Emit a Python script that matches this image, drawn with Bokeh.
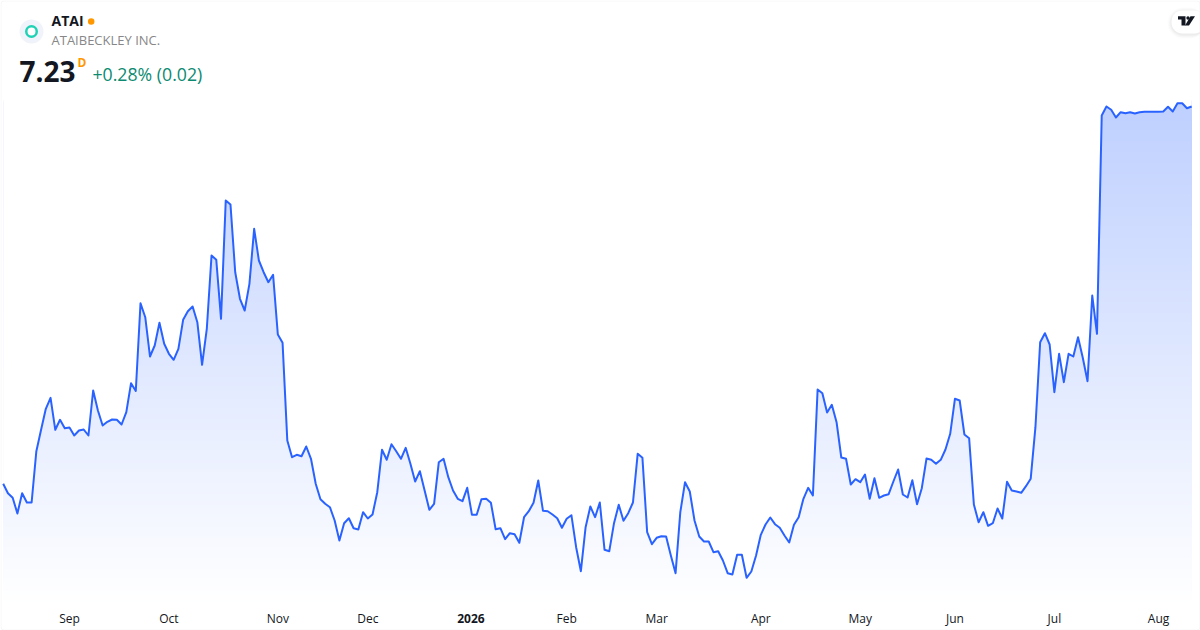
from bokeh.plotting import figure
from bokeh.embed import file_html
from bokeh.resources import INLINE
from bokeh.models import Range1d, Label, FixedTicker, PolyAnnotation, BoxAnnotation

# ---- data -------------------------------------------------------------
prices = [
3.457,3.363,3.317,3.16,3.363,3.27,3.27,3.783,3.997,4.207,
4.317,3.997,4.097,4.013,4.02,3.94,3.99,4.00,3.94,4.39,
4.19,4.04,4.077,4.10,4.097,4.05,4.173,4.463,4.385,5.263,
5.123,4.73,4.84,5.067,4.857,4.757,4.697,4.807,5.097,5.183,
5.23,5.073,4.647,5.007,5.74,5.697,5.107,6.29,6.25,5.573,
5.307,5.19,5.457,6.007,5.69,5.573,5.473,5.547,4.95,4.867,
3.89,3.723,3.747,3.733,3.83,3.707,3.457,3.303,3.257,3.223,
3.09,2.89,3.063,3.113,3.013,3.00,3.173,3.11,3.15,3.373,
3.797,3.697,3.853,3.783,3.707,3.817,3.657,3.48,3.583,3.39,
3.197,3.257,3.673,3.707,3.523,3.39,3.307,3.283,3.417,3.147,
3.147,3.302,3.307,3.267,3.003,3.013,2.903,2.963,2.953,2.867,
3.123,3.183,3.267,3.49,3.187,3.183,3.15,3.113,3.017,3.107,
3.143,2.823,2.583,3.023,3.23,3.123,3.27,2.797,2.783,3.063,
3.247,3.087,3.163,3.27,3.757,3.717,2.973,2.853,2.917,2.933,
2.93,2.74,2.563,3.173,3.473,3.38,3.09,2.93,2.88,2.88,
2.773,2.783,2.69,2.563,2.55,2.747,2.747,2.517,2.58,2.74,
2.947,3.05,3.12,3.053,3.017,2.94,2.87,3.047,3.123,3.307,
3.417,3.34,4.40,4.363,4.17,4.247,4.073,3.72,3.707,3.45,
3.503,3.473,3.55,3.307,3.513,3.317,3.34,3.353,3.48,3.60,
3.35,3.32,3.493,3.253,3.413,3.71,3.697,3.657,3.697,3.80,
3.957,4.307,4.29,3.95,3.913,3.25,3.073,3.173,3.037,3.063,
3.21,3.11,3.477,3.39,3.38,3.367,3.433,3.507,4.023,4.873,
4.963,4.85,4.373,4.757,4.473,4.757,4.73,4.923,4.717,4.483,
5.34,4.957,7.14,7.23,7.197,7.12,7.173,7.163,7.173,7.16,
7.173,7.177,7.177,7.177,7.177,7.18,7.227,7.18,7.263,7.263,
7.213,7.23,
]
tick_index = [14, 35, 58, 77, 99, 119, 138, 160, 181, 201, 222, 244]
tick_text = ["Sep", "Oct", "Nov", "Dec", "2026", "Feb", "Mar", "Apr", "May", "Jun", "Jul", "Aug"]

symbol = "ATAI"
company = "ATAIBECKLEY INC."
last_price = "7.23"
interval = "D"
change = "+0.28% (0.02)"

# ---- scales: data <-> page pixels, for placing the decorations ----------
X0, STEP = 2.7, 4.735
def X(px): return (px - X0) / STEP
def Y(py): return 8.29 - py / 100.0

W, H, PANE_H = 1200, 630, 604
FONT = "Open Sans"
BLUE = "#2962ff"

p = figure(width=W, height=H, frame_width=W, frame_height=H,
           x_range=Range1d(X(0), X(W)), y_range=Range1d(Y(H), Y(0)),
           output_backend="svg", toolbar_location=None,
           y_axis_location=None, min_border=0,
           background_fill_color="white", border_fill_color="white")
p.grid.visible = False
p.outline_line_color = None

xs = list(range(len(prices)))

# vertical gradient under the line: opaque bands painted top-down, then a white mask above the line
TOP, BOT = 102, PANE_H
ALPHA = 0.30
r, g, b = 0x29, 0x62, 0xff
bands = list(range(TOP - 2, BOT, 2))
cols = []
for lv in bands:
    a = ALPHA * max(0.0, (BOT - lv) / (BOT - TOP))
    cols.append("#%02x%02x%02x" % (round(255 - (255 - r) * a), round(255 - (255 - g) * a), round(255 - (255 - b) * a)))
p.quad(left=xs[0], right=xs[-1], top=[Y(v) for v in bands], bottom=Y(BOT), fill_color=cols, line_color=None)
p.varea(x=xs, y1=prices, y2=Y(0) + 1, fill_color="white")
p.line(xs, prices, line_color=BLUE, line_width=2, line_join="round")

# axis, held inside the frame at the foot of the price pane
ax = p.xaxis[0]
ax.fixed_location = Y(PANE_H)
ax.ticker = FixedTicker(ticks=tick_index)
ax.major_label_overrides = {i: ("" if t == "2026" else t) for i, t in zip(tick_index, tick_text)}
ax.axis_line_color = None
ax.major_tick_line_color = None
ax.minor_tick_line_color = None
ax.major_tick_out = 0
ax.major_label_standoff = 5
ax.major_label_text_font = FONT
ax.major_label_text_font_size = "12px"
ax.major_label_text_color = "#131722"

def label(px, py, text, size, color, style="normal", align="left"):
    p.add_layout(Label(x=X(px), y=Y(py), text=text, text_font=FONT, text_font_size=size,
                       text_color=color, text_font_style=style, text_align=align,
                       text_baseline="alphabetic"))

i26 = tick_text.index("2026")
label(X0 + STEP * tick_index[i26] - 1, 618, "2026", "12px", "#131722", "bold", "center")

# header
p.scatter([X(31)], [Y(31)], size=24, fill_color="#f0f3fa", line_color=None)
p.scatter([X(31)], [Y(31)], size=10.5, fill_color="white", line_color="#1fd1b5", line_width=2.5)
p.scatter([X(90.7)], [Y(21)], size=6.5, fill_color="#ff9800", line_color=None)
label(51, 20, symbol, "14px", "#131722", "bold")
label(51, 39.5, company, "13px", "#878787")
label(19, 71, last_price, "28px", "#131722", "bold")
label(77, 61.5, interval, "12px", "#ff9800", "bold")
label(92, 73, change, "17.7px", "#0b8a70")

# TradingView badge and card border
for grow, alpha in ((4, 0.012), (3, 0.015), (2, 0.02), (1, 0.025)):
    p.add_layout(BoxAnnotation(left=X(1171 - grow), right=X(1205), top=Y(10 - grow + 1), bottom=Y(33 + grow + 1),
                               fill_color="#000000", fill_alpha=alpha, line_color=None, border_radius=12 + grow))
p.add_layout(BoxAnnotation(left=X(1171), right=X(1205), top=Y(10), bottom=Y(33), fill_color="white", fill_alpha=1,
                           line_color=None, border_radius=11))
p.add_layout(PolyAnnotation(xs=[X(v) for v in (1177.5, 1185, 1185, 1181, 1181, 1177.5)],
                            ys=[Y(v) for v in (15.8, 15.8, 25, 25, 19, 19)],
                            fill_color="#131722", fill_alpha=1, line_color=None))
p.add_layout(PolyAnnotation(xs=[X(v) for v in (1190, 1194.5, 1188.5, 1184.5)],
                            ys=[Y(v) for v in (15.8, 15.8, 25, 25)],
                            fill_color="#131722", fill_alpha=1, line_color=None))
p.add_layout(BoxAnnotation(left=X(1185.8), right=X(1189.2), top=Y(15.8), bottom=Y(19.2), fill_color="#131722", fill_alpha=1,
                           line_color=None, border_radius=2))
p.add_layout(BoxAnnotation(left=X(0.5), right=X(1199.5), top=Y(0.5), bottom=Y(629.5), fill_alpha=0,
                           line_color="#e6e6e6", line_width=1, border_radius=3))

open("out.html", "w").write(file_html(p, INLINE))
